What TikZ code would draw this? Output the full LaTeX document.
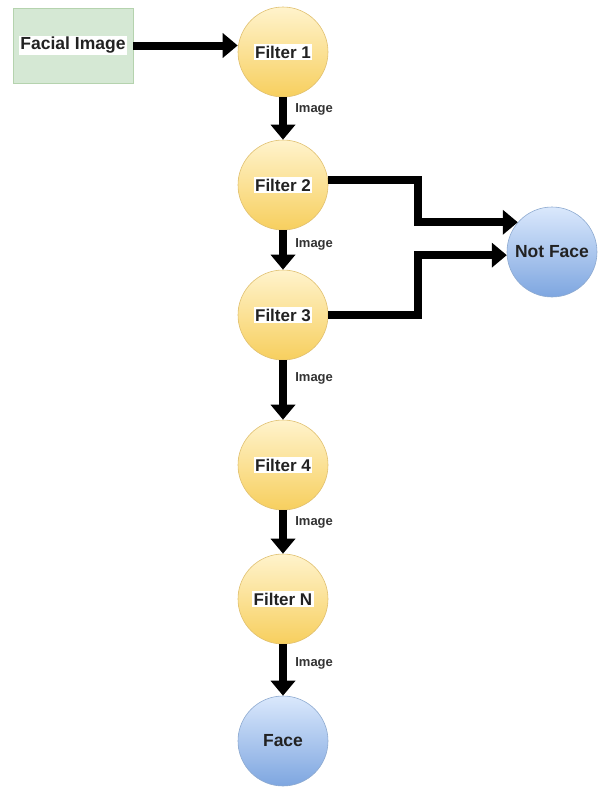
\documentclass[tikz,border=0pt]{standalone}
\usepackage{fontspec}
\setmainfont{Liberation Sans}
\usetikzlibrary{arrows.meta,calc}
\definecolor{ytop}{HTML}{FFF3CC}
\definecolor{ybot}{HTML}{F7CF5E}
\definecolor{yline}{HTML}{E0C070}
\definecolor{btop}{HTML}{DAE8FC}
\definecolor{bbot}{HTML}{7EA6E0}
\definecolor{bline}{HTML}{8EAAD0}
\definecolor{gfill}{HTML}{D5E8D4}
\definecolor{gline}{HTML}{B5D3AE}
\definecolor{txt}{HTML}{222222}
\definecolor{lbl}{HTML}{333333}
\tikzset{
  filt/.style={circle, minimum size=90pt, inner sep=0pt, top color=ytop, bottom color=ybot, draw=yline, line width=0.6pt, font=\fontsize{17}{19}\selectfont\bfseries, text=txt},
  res/.style={circle, minimum size=90pt, inner sep=0pt, top color=btop, bottom color=bbot, draw=bline, line width=0.6pt, font=\fontsize{17.5}{19}\selectfont\bfseries, text=txt},
  inbox/.style={rectangle, minimum width=120pt, minimum height=75pt, fill=gfill, draw=gline, line width=0.6pt, font=\fontsize{17.5}{19}\selectfont\bfseries, text=txt},
  arr/.style={line width=8pt, draw=black, -{Triangle[length=15pt,width=24pt]}},
  lab/.style={font=\fontsize{13}{15}\selectfont\bfseries, text=lbl},
}
\newcommand{\wb}[1]{{\setlength{\fboxsep}{1.5pt}\colorbox{white}{#1}}}
\begin{document}
\begin{tikzpicture}[x=1pt,y=-1pt]
\useasboundingbox (0,0) rectangle (597,787);
\node[inbox] (fi) at (73,45.5) {\wb{Facial Image}};
\node[filt] (f1) at (283,52) {\wb{Filter 1}};
\node[filt] (f2) at (283,185) {\wb{Filter 2}};
\node[filt] (f3) at (283,315) {\wb{Filter 3}};
\node[filt] (f4) at (283,465) {\wb{Filter 4}};
\node[filt] (fn) at (283,599) {\wb{Filter N}};
\node[res] (face) at (283,741) {Face};
\node[res] (nf) at (552,252) {Not Face};
\coordinate (b1) at (418,0);

\draw[arr] (fi.east) -- (f1.west |- fi.east);
\draw[arr] (f1) -- node[lab, pos=0.28, right=5pt] {Image} (f2);
\draw[arr] (f2) -- node[lab, pos=0.37, right=5pt] {Image} (f3);
\draw[arr] (f3) -- node[lab, pos=0.3, right=5pt] {Image} (f4);
\draw[arr] (f4) -- node[lab, pos=0.27, right=5pt] {Image} (fn);
\draw[arr] (fn) -- node[lab, pos=0.37, right=5pt] {Image} (face);
\draw[arr] (f2.6) -- (f2.6 -| b1) |- (nf.139);
\draw[arr] (f3.east) -- (f3.east -| b1) |- (nf.184);
\end{tikzpicture}
\end{document}
